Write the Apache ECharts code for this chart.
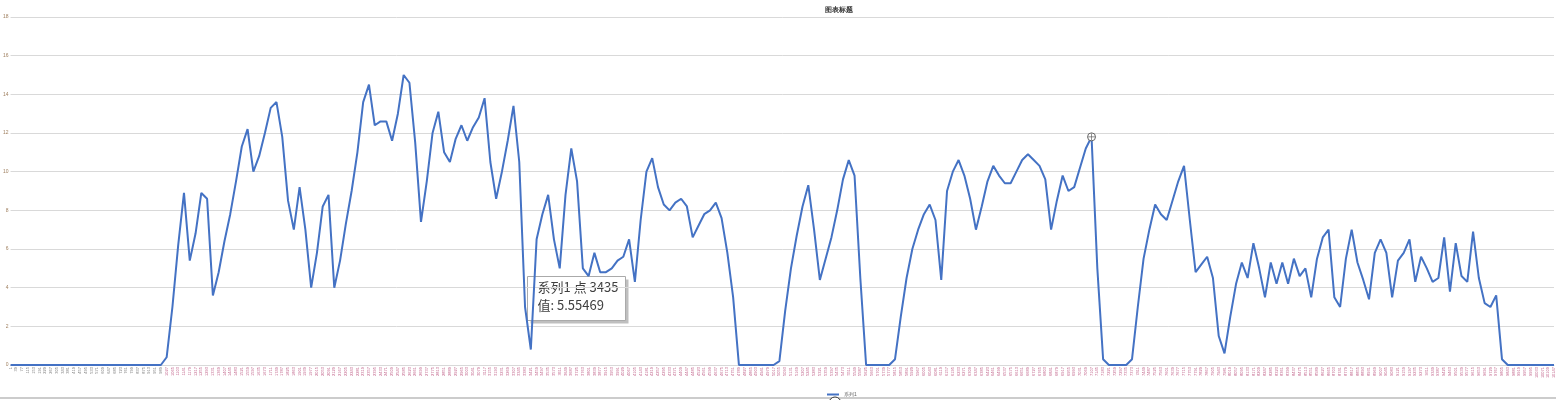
<!DOCTYPE html>
<html>
<head>
<meta charset="utf-8">
<title>图表标题</title>
<script src="https://cdn.jsdelivr.net/npm/echarts@6/dist/echarts.min.js"></script>
<style>
  html, body { margin: 0; padding: 0; background: #fff; }
  #chart { width: 1556px; height: 400px; }
</style>
</head>
<body>
<div id="chart"></div>
<script>
// 读数：每个刻度一个点（约每 38 个原始点取一个）
var values = [
  0, 0, 0, 0, 0, 0, 0, 0, 0, 0,
  0, 0, 0, 0, 0, 0, 0, 0, 0, 0,
  0, 0, 0, 0, 0, 0, 0, 0.4, 3.0, 6.2,
  8.9, 5.4, 6.8, 8.9, 8.6, 3.6, 4.8, 6.4, 7.8, 9.5,
  11.3, 12.2, 10.0, 10.8, 12.0, 13.3, 13.6, 11.8, 8.5, 7.0,
  9.2, 7.0, 4.0, 5.8, 8.2, 8.8, 4.0, 5.4, 7.3, 9.0,
  11.0, 13.6, 14.5, 12.4, 12.6, 12.6, 11.6, 13.0, 15.0, 14.6,
  11.5, 7.4, 9.5, 12.0, 13.1, 11.0, 10.5, 11.7, 12.4, 11.6,
  12.3, 12.8, 13.8, 10.5, 8.6, 10.0, 11.6, 13.4, 10.5, 3.0,
  0.8, 6.5, 7.8, 8.8, 6.5, 5.0, 8.8, 11.2, 9.5, 5.0,
  4.6, 5.8, 4.8, 4.8, 5.0, 5.4, 5.6, 6.5, 4.3, 7.5,
  10.0, 10.7, 9.2, 8.3, 8.0, 8.4, 8.6, 8.2, 6.6, 7.2,
  7.8, 8.0, 8.4, 7.6, 5.8, 3.5, 0, 0, 0, 0,
  0, 0, 0, 0.2, 2.8, 5.0, 6.7, 8.2, 9.3, 7.0,
  4.4, 5.5, 6.6, 8.0, 9.6, 10.6, 9.8, 4.5, 0, 0,
  0, 0, 0, 0.3, 2.5, 4.5, 6.0, 7.0, 7.8, 8.3,
  7.5, 4.4, 9.0, 10.0, 10.6, 9.8, 8.6, 7.0, 8.2, 9.5,
  10.3, 9.8, 9.4, 9.4, 10.0, 10.6, 10.9, 10.6, 10.3, 9.6,
  7.0, 8.5, 9.8, 9.0, 9.2, 10.2, 11.2, 11.8, 5.0, 0.3,
  0, 0, 0, 0, 0.3, 3.0, 5.5, 7.0, 8.3, 7.8,
  7.5, 8.5, 9.5, 10.3, 7.5, 4.8, 5.2, 5.6, 4.5, 1.5,
  0.6, 2.5, 4.2, 5.3, 4.5, 6.3, 5.0, 3.5, 5.3, 4.2,
  5.3, 4.2, 5.5, 4.6, 5.0, 3.5, 5.5, 6.6, 7.0, 3.5,
  3.0, 5.5, 7.0, 5.3, 4.4, 3.4, 5.8, 6.5, 5.8, 3.5,
  5.4, 5.8, 6.5, 4.3, 5.6, 5.0, 4.3, 4.5, 6.6, 3.8,
  6.3, 4.6, 4.3, 6.9, 4.5, 3.2, 3.0, 3.6, 0.3, 0,
  0, 0, 0, 0, 0, 0, 0, 0
]
var categories = []
for (var i = 0; i < values.length; i++) {
  categories.push(String(1 + i * 38))
}
var peakIndex = 187
var tipLines = ['系列1 点 3435', '值: 5.55469']

var chart = echarts.init(document.getElementById('chart'))
var option = {
  animation: false,
  title: {
    text: '图表标题',
    left: 820,
    top: 2,
    textStyle: { fontSize: 7, fontWeight: 'bold', color: '#333' }
  },
  legend: {
    data: ['系列1'],
    icon: 'rect',
    left: 822,
    top: 387,
    itemWidth: 12,
    itemHeight: 2,
    itemGap: 2,
    textStyle: { fontSize: 5, color: '#666' }
  },
  grid: {
    left: 8,
    right: 0,
    top: 17,
    bottom: 35,
    containLabel: false
  },
  xAxis: {
    type: 'category',
    boundaryGap: false,
    data: categories,
    axisLine: { lineStyle: { color: '#d9d9d9' } },
    axisTick: { show: false },
    axisLabel: {
      interval: 0,
      rotate: 90,
      fontSize: 4,
      margin: 2,
      color: function (val, idx) {
        return idx < 27 ? '#777' : '#c06088'
      }
    }
  },
  yAxis: {
    type: 'value',
    min: 0,
    max: 18,
    interval: 2,
    axisLine: { show: false },
    axisTick: { show: false },
    splitLine: { lineStyle: { color: '#d9d9d9' } },
    axisLabel: { fontSize: 5, margin: 2, color: '#a08060' }
  },
  series: [{
    name: '系列1',
    type: 'line',
    showSymbol: false,
    data: values,
    lineStyle: { color: '#4472c4', width: 2 },
    itemStyle: { color: '#4472c4' },
    markPoint: {
      silent: true,
      label: { show: false },
      data: [
        {
          coord: [categories[peakIndex], values[peakIndex]],
          symbol: 'circle',
          symbolSize: 8,
          itemStyle: { color: '#fff', borderColor: '#666', borderWidth: 1 }
        },
        {
          coord: [categories[peakIndex], values[peakIndex]],
          symbol: 'path://M4.5,0h1v10h-1z M0,4.5h10v1h-10z',
          symbolSize: 7,
          itemStyle: { color: '#666' }
        }
      ]
    }
  }],
  graphic: [
    {
      type: 'line',
      shape: { x1: 0, y1: 398, x2: 1556, y2: 398 },
      style: { stroke: '#ccc', lineWidth: 2 }
    },
    {
      type: 'circle',
      shape: { cx: 835, cy: 403, r: 6 },
      style: { fill: '#fff', stroke: '#333', lineWidth: 1 }
    },
    {
      type: 'group',
      left: 527,
      top: 276,
      children: [
        {
          type: 'rect',
          shape: { x: 3, y: 3, width: 98, height: 44 },
          style: { fill: 'rgba(0,0,0,0.25)' }
        },
        {
          type: 'rect',
          shape: { x: 0, y: 0, width: 98, height: 44 },
          style: { fill: '#fff', stroke: '#aaa', lineWidth: 1 }
        },
        {
          type: 'text',
          x: 10,
          y: 4,
          style: { text: tipLines[0], fontSize: 13, fill: '#404040', fontFamily: 'Noto Sans CJK SC' }
        },
        {
          type: 'text',
          x: 10,
          y: 22,
          style: { text: tipLines[1], fontSize: 13, fill: '#404040', fontFamily: 'Noto Sans CJK SC' }
        }
      ]
    }
  ]
}
chart.setOption(option)
window.addEventListener('resize', function () {
  chart.resize()
})
</script>
</body>
</html>
